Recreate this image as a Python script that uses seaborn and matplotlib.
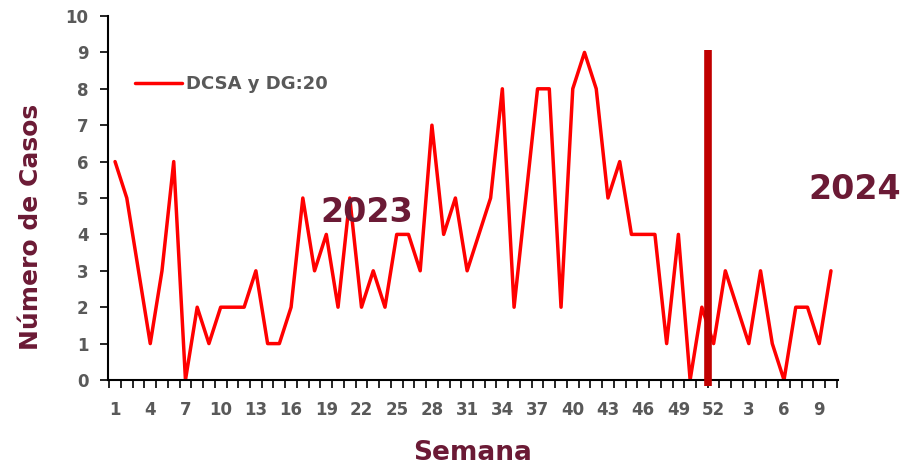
import matplotlib
matplotlib.use('Agg')
import matplotlib.pyplot as plt
import seaborn as sns
import numpy as np
import pandas as pd

# Semanas: 2023 (1-52) y 2024 (1-10)
semanas_2023 = list(range(1, 53))
semanas_2024 = list(range(1, 11))
casos_2023 = [6, 5, 3, 1, 3, 6, 0, 2, 1, 2, 2, 2, 3, 1, 1, 2, 5, 3, 4, 2,
              5, 2, 3, 2, 4, 4, 3, 7, 4, 5, 3, 4, 5, 8, 2, 5, 8, 8, 2, 8,
              9, 8, 5, 6, 4, 4, 4, 1, 4, 0, 2, 1]
casos_2024 = [3, 2, 1, 3, 1, 0, 2, 2, 1, 3]

etiquetas = [str(s) for s in semanas_2023 + semanas_2024]
casos = casos_2023 + casos_2024
df = pd.DataFrame({'pos': np.arange(len(casos)), 'casos': casos, 'semana': etiquetas})

MAROON = '#6B1A35'
GRIS = '#595959'

sns.set_style('white')
plt.rcParams['font.family'] = ['DejaVu Sans']

fig = plt.figure(figsize=(9.1, 4.69), dpi=100)
ax = fig.add_axes([108 / 910, 1 - 380 / 469, 730 / 910, 364 / 469])

sns.lineplot(data=df, x='pos', y='casos', color='#FF0000', linewidth=2.5,
             ax=ax, label='DCSA y DG:20', zorder=2)

# separador entre años
ax.plot([50.5, 50.5], [-0.16, 9.07], color='#C00000', linewidth=5.5,
        solid_capstyle='butt', zorder=3, clip_on=False)

ax.set_xlim(-0.6, len(casos) - 0.4)
ax.set_ylim(0, 10)
ax.set_yticks(range(0, 11))

major = df['pos'][::3]
ax.set_xticks(major)
ax.set_xticklabels(df['semana'][::3])
ax.set_xticks(np.arange(len(casos) + 1) - 0.5, minor=True)
ax.tick_params(axis='x', which='major', bottom=True, length=0, pad=15,
               labelsize=12, labelcolor=GRIS)
ax.tick_params(axis='x', which='minor', bottom=True, length=6, width=1.2,
               color='black', direction='out')
ax.tick_params(axis='y', left=True, length=6, width=1.2, color='black', direction='out',
               labelsize=12, labelcolor=GRIS, pad=8)
for lab in ax.get_xticklabels() + ax.get_yticklabels():
    lab.set_fontweight('bold')

for side in ['top', 'right']:
    ax.spines[side].set_visible(False)
for side in ['left', 'bottom']:
    ax.spines[side].set_color('black')
    ax.spines[side].set_linewidth(1.5)

ax.set_xlabel('Semana', fontsize=19, fontweight='bold', color=MAROON, labelpad=15)
ax.set_ylabel('Número de Casos', fontsize=18, fontweight='bold', color=MAROON)
ax.yaxis.set_label_coords(-0.089, 0.42)

ax.text(17.5, 4.59, '2023', fontsize=24, fontweight='bold', color=MAROON,
        ha='left', va='center', zorder=5)
ax.text(59.1, 5.22, '2024', fontsize=24, fontweight='bold', color=MAROON,
        ha='left', va='center', zorder=5, clip_on=False)

leg = ax.legend(loc='center left', bbox_to_anchor=(0.037, 0.813), frameon=False,
                fontsize=13, handlelength=2.6, handletextpad=0.2,
                borderaxespad=0, borderpad=0)
for t in leg.get_texts():
    t.set_color(GRIS)
    t.set_fontweight('bold')

fig.savefig('out.png', dpi=100, facecolor='white')
